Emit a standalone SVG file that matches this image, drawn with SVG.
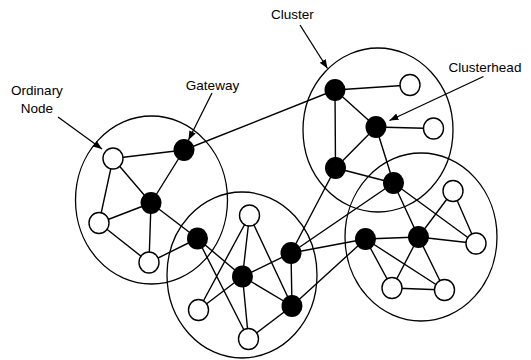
<svg xmlns="http://www.w3.org/2000/svg" width="531" height="360" viewBox="0 0 531 360">
<style>
.cl{fill:none;stroke:#000;stroke-width:1.3}
.e{stroke:#000;stroke-width:1.4;fill:none}
.b{fill:#000}
.w{fill:#fff;stroke:#000;stroke-width:1.4}
.t{font-family:"Liberation Sans",Arial,sans-serif;font-size:13.5px;fill:#000;text-anchor:middle}
.ar{stroke:#000;stroke-width:1.3;fill:none;marker-end:url(#ah)}
</style>
<defs>
<marker id="ah" markerUnits="userSpaceOnUse" markerWidth="10" markerHeight="8" refX="9" refY="3.5" orient="auto">
<path d="M0,0 L9,3.5 L0,7 z" fill="#000"/>
</marker>
</defs>
<rect width="531" height="360" fill="#fff"/>
<g id="clusters">
<ellipse id="cluster1" class="cl" cx="151.5" cy="200" rx="76" ry="84"/>
<ellipse id="cluster2" class="cl" cx="378" cy="130" rx="75" ry="82"/>
<ellipse id="cluster3" class="cl" cx="242" cy="275" rx="75" ry="83"/>
<ellipse id="cluster4" class="cl" cx="421" cy="237" rx="76" ry="84"/>
</g>
<g id="connectors">
<path class="e" d="M184,150L335,90 M113,158.5L184,150 M113,158.5L151,203 M113,158.5L99,223 M184,150L151,203 M151,203L99,223 M151,203L149,262.5 M151,203L197.5,238.5 M99,223L149,262.5 M149,262.5L197.5,238.5"/>
<path class="e" d="M197.5,238.5L242.5,276.5 M197.5,238.5L248.5,339 M249.5,215.5L198.5,310 M249.5,215.5L242.5,276.5 M249.5,215.5L292,306 M242.5,276.5L198.5,310 M242.5,276.5L291,253 M242.5,276.5L292,306 M242.5,276.5L248.5,339 M291,253L292,306 M292,306L248.5,339 M292,306L365.5,239"/>
<path class="e" d="M291,253L335.5,168 M291,253L365.5,239 M291,253L393.5,183"/>
<path class="e" d="M335,90L410,85 M335,90L376,127 M335,90L335.5,168 M376,127L433.5,128.5 M376,127L335.5,168 M376,127L393.5,183 M335.5,168L393.5,183"/>
<path class="e" d="M365.5,239L418.5,237 M365.5,239L392,288 M365.5,239L444.5,290 M418.5,237L453,191 M418.5,237L476,243.5 M418.5,237L392,288 M418.5,237L444.5,290 M453,191L476,243.5 M392,288L444.5,290 M393.5,183L418.5,237 M393.5,183L476,243.5"/>
<line class="ar" x1="58" y1="117" x2="102" y2="149"/>
<line class="ar" x1="212" y1="93" x2="188.5" y2="140"/>
<line class="ar" x1="300" y1="25" x2="327.5" y2="68.5"/>
<line class="ar" x1="483.5" y1="76.5" x2="389.5" y2="120.5"/>
</g>
<g id="nodeA"><ellipse class="w" cx="113" cy="158.5" rx="10" ry="10.5"/></g>
<g id="nodeG"><ellipse class="b" cx="184" cy="150" rx="10.5" ry="11"/></g>
<g id="nodeB"><ellipse class="b" cx="151" cy="203" rx="10.5" ry="11"/></g>
<g id="nodeC"><ellipse class="w" cx="99" cy="223" rx="10" ry="10.5"/></g>
<g id="nodeD"><ellipse class="w" cx="149" cy="262.5" rx="10" ry="10.5"/></g>
<g id="nodeE"><ellipse class="b" cx="197.5" cy="238.5" rx="10.5" ry="11"/></g>
<g id="nodeF"><ellipse class="w" cx="249.5" cy="215.5" rx="10" ry="10.5"/></g>
<g id="nodeK"><ellipse class="b" cx="242.5" cy="276.5" rx="10.5" ry="11"/></g>
<g id="nodeL"><ellipse class="b" cx="291" cy="253" rx="10.5" ry="11"/></g>
<g id="nodeM"><ellipse class="b" cx="292" cy="306" rx="10.5" ry="11"/></g>
<g id="nodeN"><ellipse class="w" cx="198.5" cy="310" rx="10" ry="10.5"/></g>
<g id="nodeP"><ellipse class="w" cx="248.5" cy="339" rx="10" ry="10.5"/></g>
<g id="nodeH"><ellipse class="b" cx="335" cy="90" rx="10.5" ry="11"/></g>
<g id="nodeX"><ellipse class="w" cx="410" cy="85" rx="10" ry="10.5"/></g>
<g id="nodeY"><ellipse class="b" cx="376" cy="127" rx="10.5" ry="11"/></g>
<g id="nodeZ"><ellipse class="w" cx="433.5" cy="128.5" rx="10" ry="10.5"/></g>
<g id="nodeI"><ellipse class="b" cx="335.5" cy="168" rx="10.5" ry="11"/></g>
<g id="nodeR"><ellipse class="b" cx="393.5" cy="183" rx="10.5" ry="11"/></g>
<g id="nodeQ"><ellipse class="b" cx="365.5" cy="239" rx="10.5" ry="11"/></g>
<g id="nodeS"><ellipse class="b" cx="418.5" cy="237" rx="10.5" ry="11"/></g>
<g id="nodeU"><ellipse class="w" cx="453" cy="191" rx="10" ry="10.5"/></g>
<g id="nodeT"><ellipse class="w" cx="476" cy="243.5" rx="10" ry="10.5"/></g>
<g id="nodeV"><ellipse class="w" cx="392" cy="288" rx="10" ry="10.5"/></g>
<g id="nodeW"><ellipse class="w" cx="444.5" cy="290" rx="10" ry="10.5"/></g>
<g id="labels">
<text class="t" x="37" y="95">Ordinary</text>
<text class="t" x="37" y="113">Node</text>
<text class="t" x="212.5" y="90">Gateway</text>
<text class="t" x="292.5" y="19">Cluster</text>
<text class="t" x="485" y="72">Clusterhead</text>
</g>
</svg>
